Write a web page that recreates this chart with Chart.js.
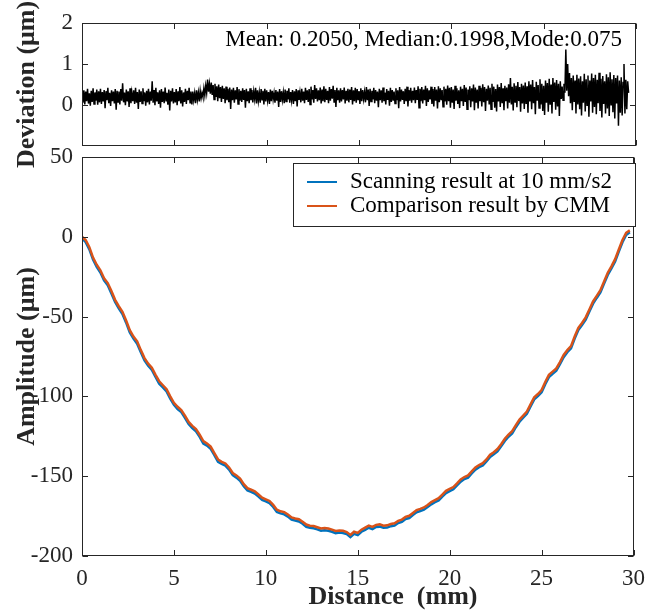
<!DOCTYPE html>
<html><head><meta charset="utf-8">
<script src="https://cdn.jsdelivr.net/npm/chart.js@4.4.0/dist/chart.umd.min.js"></script>
<style>
html,body{margin:0;padding:0;background:#fff;}
#wrap{position:relative;width:654px;height:613px;}
canvas{position:absolute;left:0;top:0;}
</style></head><body>
<div id="wrap"><canvas id="cTop" width="654" height="613"></canvas><canvas id="cBot" width="654" height="613"></canvas></div>
<script>
const distTicks = [0,5,10,15,20,25,30];
const devTicks = [0,1,2];
const ampTicks = [-200,-150,-100,-50,0,50];
const devStart = 0, devStep = 0.05;
const deviation = [
0.30,0.06,0.36,0.02,0.33,0.10,0.40,0.04,0.29,-0.01,0.35,0.08,0.41,0.03,0.31,0.11,0.38,0.01,0.34,0.07,
0.40,0.03,0.32,0.09,0.37,-0.07,0.34,0.12,0.42,0.05,0.30,-0.02,0.36,0.10,0.33,0.04,0.39,-0.11,0.35,0.08,
0.33,0.02,0.39,0.11,0.53,0.07,0.31,0.00,0.38,0.09,0.34,-0.04,0.41,0.05,0.30,0.10,0.36,0.03,0.42,0.06,
0.32,-0.09,0.38,0.08,0.34,0.04,0.41,0.10,0.31,-0.01,0.35,0.07,0.40,0.02,0.33,0.11,0.58,0.06,0.37,0.00,
0.42,0.09,0.31,0.03,0.36,-0.06,0.39,0.08,0.33,0.05,0.43,0.11,0.30,0.01,0.38,-0.13,0.35,0.09,0.41,0.04,
0.32,0.07,0.39,0.00,0.34,0.10,0.44,0.04,0.36,-0.03,0.31,0.08,0.40,0.03,0.35,0.12,0.42,0.06,0.33,0.02,
0.33,0.12,0.29,0.05,0.36,0.14,0.31,0.09,0.35,0.17,0.30,0.20,0.41,0.24,0.47,0.30,0.62,0.33,0.52,0.28,
0.55,0.25,0.49,0.14,0.52,0.20,0.46,0.10,0.50,0.17,0.44,0.08,0.47,0.15,0.41,0.05,0.45,0.12,0.40,0.07,
0.43,-0.09,0.38,0.12,0.42,0.06,0.36,0.14,0.44,0.03,0.39,0.11,0.35,0.08,0.41,0.13,0.37,-0.06,0.40,0.10,
0.34,0.05,0.41,0.12,0.37,0.07,0.33,0.15,0.42,0.04,0.36,0.11,0.31,0.06,0.39,0.13,0.35,0.02,0.40,0.09,
0.36,0.12,0.32,0.03,0.38,0.10,0.35,0.14,0.30,0.06,0.37,0.11,0.33,-0.04,0.39,0.08,0.34,0.13,0.31,0.05,
0.38,0.09,0.35,0.14,0.41,0.06,0.32,0.12,0.37,0.03,0.34,0.10,0.39,-0.03,0.36,0.13,0.31,0.07,0.40,0.11,
0.33,0.05,0.42,0.13,0.36,0.08,0.39,0.02,0.45,0.14,0.37,0.06,0.49,0.15,0.41,0.09,0.36,0.12,0.43,0.04,
0.38,0.10,0.46,0.07,0.40,0.13,0.35,0.05,0.44,0.11,0.39,0.16,0.47,0.08,0.37,-0.04,0.42,0.12,0.36,0.06,
0.41,0.09,0.37,0.14,0.43,0.04,0.35,0.11,0.40,0.07,0.38,0.13,0.44,0.02,0.36,0.10,0.42,0.06,0.39,0.12,
0.34,0.03,0.41,0.10,0.37,0.15,0.32,0.07,0.44,0.12,0.38,-0.02,0.40,0.09,0.35,0.14,0.42,0.05,0.37,0.11,
0.33,-0.05,0.40,0.12,0.36,0.06,0.43,0.10,0.31,0.02,0.39,0.13,0.35,-0.01,0.42,0.08,0.37,0.11,0.33,0.04,
0.41,0.12,0.36,-0.07,0.44,0.09,0.38,0.13,0.34,0.03,0.40,0.10,0.45,-0.03,0.37,0.11,0.42,0.06,0.35,0.12,
0.43,0.05,0.37,0.13,0.46,-0.06,0.40,0.10,0.44,0.04,0.38,0.12,0.47,-0.02,0.41,0.08,0.36,0.14,0.45,0.03,
0.39,-0.03,0.44,0.11,0.38,-0.08,0.46,0.07,0.41,0.12,0.37,-0.04,0.45,0.09,0.40,0.01,0.48,0.10,0.42,-0.06,
0.44,0.06,0.38,-0.09,0.47,0.11,0.41,0.03,0.36,-0.07,0.45,0.10,0.40,-0.02,0.49,0.08,0.43,-0.10,0.38,0.12,
0.46,-0.05,0.41,0.09,0.50,-0.12,0.43,0.06,0.38,-0.08,0.47,0.10,0.42,-0.03,0.51,0.07,0.44,-0.14,0.40,0.11,
0.48,0.02,0.42,-0.10,0.52,0.08,0.45,-0.06,0.39,-0.15,0.50,0.09,0.44,-0.04,0.54,0.05,0.41,-0.12,0.47,0.10,
0.43,-0.08,0.51,0.06,0.66,0.02,0.45,-0.13,0.53,0.08,0.47,-0.05,0.56,0.10,0.44,-0.16,0.52,0.04,0.48,-0.09,
0.55,0.03,0.46,-0.18,0.58,0.09,0.50,-0.10,0.61,0.05,0.44,-0.22,0.57,0.11,0.49,-0.07,0.63,0.02,0.52,-0.14,
0.47,-0.24,0.60,0.06,0.54,-0.16,0.64,0.01,0.50,-0.20,0.66,0.08,0.55,-0.11,0.61,-0.03,0.52,-0.26,0.58,0.15,
0.45,0.12,0.52,0.30,1.35,0.35,1.00,0.22,0.78,0.05,0.66,-0.12,0.72,0.08,0.60,-0.20,0.74,0.02,0.65,-0.10,
0.70,-0.25,0.58,0.06,0.76,-0.15,0.63,0.00,0.72,-0.28,0.60,0.09,0.77,-0.18,0.66,-0.04,0.74,-0.22,0.62,0.05,
0.79,-0.14,0.64,-0.30,0.71,0.03,0.58,-0.20,0.75,-0.08,0.68,-0.26,0.80,0.01,0.63,-0.17,0.73,-0.32,0.66,0.04,
0.72,-0.50,0.60,-0.18,0.68,-0.25,0.55,1.00,-0.20,0.62,-0.10,0.58,0.30
];
const ampStart = 0, ampStep = 0.2;
const ampCMM = [
0,-2,-6.5,-13,-17.5,-21,-26,-29,-34,-39.5,
-43.5,-47,-52.5,-58.5,-62.5,-65.5,-71,-76,-79.5,-82,
-86.5,-90.5,-93,-95.5,-100,-104,-106.5,-108.5,-112,-116,
-118.5,-120.5,-124,-128,-129.5,-131.5,-135.5,-139.5,-141,-142,
-144.5,-148,-149.5,-151.5,-155,-157.5,-158.5,-159.5,-161.5,-163.5,
-164.5,-165.5,-168,-171,-172,-172.5,-174,-175.8,-176.5,-177,
-178.5,-180.3,-181,-181.2,-182,-182.8,-182.5,-182.8,-183.5,-184.3,
-184,-184.2,-185,-186.8,-184.8,-185.5,-183.5,-182.2,-181,-181.8,
-180.5,-180.2,-181,-180.8,-180,-179.5,-178,-177.2,-175.5,-174.8,
-173,-171.2,-170.5,-169.6,-168,-166.2,-165,-163.8,-161.5,-159.2,
-158,-156.8,-154.5,-152,-150.5,-149.5,-147,-144.5,-143,-141.8,
-139.5,-136.5,-135,-133,-130,-126.5,-124,-121.8,-118,-114.5,
-112,-109.5,-105,-100.5,-98.5,-96,-91,-86.5,-84.5,-82.5,
-78.5,-74,-71,-68.5,-62.5,-57,-54,-50.5,-45.5,-40.5,
-37,-33.5,-28,-22.5,-18.5,-14,-8,-2,2.5,4
];
const ampScan = [
-0.9,-3.3,-7.9,-14.2,-18.9,-22.4,-27.3,-30.4,-35.5,-40.8,
-44.9,-48.4,-53.8,-59.9,-63.8,-67.0,-72.3,-77.5,-80.8,-83.4,
-87.8,-92.0,-94.3,-96.9,-101.4,-105.3,-107.9,-109.8,-113.4,-117.3,
-119.9,-121.9,-125.3,-129.5,-130.8,-132.9,-136.8,-141.0,-142.3,-143.4,
-145.9,-149.3,-150.9,-152.9,-156.3,-158.9,-159.8,-160.9,-162.8,-164.9,
-165.8,-166.9,-169.3,-172.4,-173.3,-173.9,-175.3,-177.2,-177.8,-178.4,
-179.8,-181.7,-182.3,-182.6,-183.3,-184.2,-183.8,-184.2,-184.8,-185.7,
-185.3,-185.6,-186.3,-188.2,-186.1,-186.9,-184.8,-183.6,-182.3,-183.2,
-181.8,-181.6,-182.3,-182.2,-181.3,-180.9,-179.3,-178.6,-176.8,-176.2,
-174.3,-172.6,-171.8,-171.0,-169.3,-167.6,-166.3,-165.2,-162.8,-160.6,
-159.3,-158.2,-155.8,-153.4,-151.8,-150.9,-148.3,-145.9,-144.3,-143.2,
-140.8,-137.9,-136.3,-134.4,-131.3,-127.9,-125.3,-123.2,-119.3,-115.9,
-113.3,-110.9,-106.3,-101.9,-99.8,-97.4,-92.3,-87.9,-85.8,-83.9,
-79.8,-75.4,-72.3,-69.9,-63.8,-58.4,-55.3,-51.9,-46.8,-41.9,
-38.3,-34.9,-29.3,-23.9,-19.8,-15.4,-9.3,-3.4,1.2,2.8
];
const legendLabels = ['Scanning result at 10 mm/s2','Comparison result by CMM'];
const statsText = 'Mean: 0.2050, Median:0.1998,Mode:0.075';
const xTitle = 'Distance  (mm)';

const FONT = "'Liberation Serif', 'Times New Roman', serif";
const AX = '#262626';
const BLUE = '#0072BD', ORANGE = '#D95319';

const framePlugin = {
  id: 'frame',
  afterDatasetsDraw(chart) {
    const {ctx, chartArea: a, scales} = chart;
    const L = Math.round(a.left) + 0.5, R = Math.round(a.right) - 0.5;
    const T = Math.round(a.top) + 0.5, B = Math.round(a.bottom) - 0.5;
    ctx.save();
    ctx.strokeStyle = AX; ctx.lineWidth = 1;
    ctx.strokeRect(L, T, R - L, B - T);
    const tl = 5.5;
    ctx.beginPath();
    scales.x.ticks.forEach(t => {
      const px = Math.round(scales.x.getPixelForValue(t.value)) + 0.5;
      ctx.moveTo(px, B); ctx.lineTo(px, B - tl);
      ctx.moveTo(px, T); ctx.lineTo(px, T + tl);
    });
    scales.y.ticks.forEach(t => {
      const py = Math.round(scales.y.getPixelForValue(t.value)) + 0.5;
      ctx.moveTo(L, py); ctx.lineTo(L + tl, py);
      ctx.moveTo(R, py); ctx.lineTo(R - tl, py);
    });
    ctx.stroke();
    ctx.restore();
  }
};

const statsPlugin = {
  id: 'stats',
  afterDraw(chart) {
    const ctx = chart.ctx;
    ctx.save();
    ctx.font = "23px " + FONT;
    ctx.fillStyle = '#000';
    ctx.textAlign = 'right';
    ctx.textBaseline = 'alphabetic';
    ctx.fillText(statsText, 622, 46);
    ctx.restore();
  }
};

const legendPlugin = {
  id: 'boxLegend',
  afterDraw(chart) {
    const ctx = chart.ctx;
    const x0 = 293.5, y0 = 163.5, x1 = 635.5, y1 = 226.5;
    ctx.save();
    ctx.fillStyle = '#fff';
    ctx.fillRect(x0, y0, x1 - x0, y1 - y0);
    ctx.strokeStyle = AX; ctx.lineWidth = 1;
    ctx.strokeRect(x0, y0, x1 - x0, y1 - y0);
    const rows = [{label: legendLabels[0], color: BLUE, y: 182}, {label: legendLabels[1], color: ORANGE, y: 206}];
    ctx.font = "23px " + FONT;
    ctx.textAlign = 'left';
    ctx.textBaseline = 'alphabetic';
    rows.forEach(r => {
      ctx.strokeStyle = r.color; ctx.lineWidth = 2;
      ctx.beginPath(); ctx.moveTo(307, r.y); ctx.lineTo(337, r.y); ctx.stroke();
      ctx.fillStyle = '#000';
      ctx.fillText(r.label, 350, r.y + 6);
    });
    ctx.font = "bold 26px " + FONT;
    ctx.fillStyle = AX;
    ctx.textAlign = 'center';
    ctx.textBaseline = 'middle';
    ctx.fillText(xTitle, 393, 597.5);
    ctx.restore();
  }
};

const tickFont = () => ({family: FONT, size: 23});
const titleFont = () => ({family: FONT, size: 26, weight: 'bold', lineHeight: 1.2});

new Chart(document.getElementById('cTop'), {
  type: 'line',
  data: {
    datasets: [{
      data: deviation.map((v, i) => ({x: devStart + i * devStep, y: v})),
      borderColor: '#000', borderWidth: 1.5, pointRadius: 0, tension: 0
    }]
  },
  options: {
    responsive: false, animation: false, devicePixelRatio: 1,
    layout: {padding: {left: 0, right: 18, top: 16, bottom: 467}},
    plugins: {legend: {display: false}, tooltip: {enabled: false}},
    scales: {
      x: {type: 'linear', min: 0, max: 30, display: false,
          afterBuildTicks: s => { s.ticks = distTicks.map(v => ({value: v})); }},
      y: {type: 'linear', min: -0.99, max: 2,
          afterBuildTicks: s => { s.ticks = devTicks.map(v => ({value: v})); },
          afterFit: s => { s.width = 82; },
          grid: {display: false, drawTicks: false}, border: {display: false},
          ticks: {font: tickFont(), color: AX, padding: 9},
          title: {display: true, text: 'Deviation (μm)', font: titleFont(), color: AX, padding: {top: 12, bottom: 0}}}
    }
  },
  plugins: [framePlugin, statsPlugin]
});

new Chart(document.getElementById('cBot'), {
  type: 'line',
  data: {
    datasets: [
      {label: legendLabels[0], data: ampScan.map((v, i) => ({x: ampStart + i * ampStep, y: v})),
       borderColor: BLUE, borderWidth: 2.5, pointRadius: 0, tension: 0, order: 1},
      {label: legendLabels[1], data: ampCMM.map((v, i) => ({x: ampStart + i * ampStep, y: v})),
       borderColor: ORANGE, borderWidth: 2.5, pointRadius: 0, tension: 0, order: 0}
    ]
  },
  options: {
    responsive: false, animation: false, devicePixelRatio: 1,
    layout: {padding: {left: 0, right: 18, top: 157, bottom: 0}},
    plugins: {legend: {display: false}, tooltip: {enabled: false}},
    scales: {
      x: {type: 'linear', min: 0, max: 30,
          afterBuildTicks: s => { s.ticks = distTicks.map(v => ({value: v})); },
          afterFit: s => { s.height = 57; },
          grid: {display: false, drawTicks: false}, border: {display: false},
          ticks: {font: tickFont(), color: AX, padding: 9, maxRotation: 0, autoSkip: false},
          title: {display: false}},
      y: {type: 'linear', min: -200, max: 50,
          afterBuildTicks: s => { s.ticks = ampTicks.map(v => ({value: v})); },
          afterFit: s => { s.width = 82; },
          grid: {display: false, drawTicks: false}, border: {display: false},
          ticks: {font: tickFont(), color: AX, padding: 9},
          title: {display: true, text: 'Amplitude (μm)', font: titleFont(), color: AX, padding: {top: 12, bottom: 0}}}
    }
  },
  plugins: [framePlugin, legendPlugin]
});
</script>
</body></html>
